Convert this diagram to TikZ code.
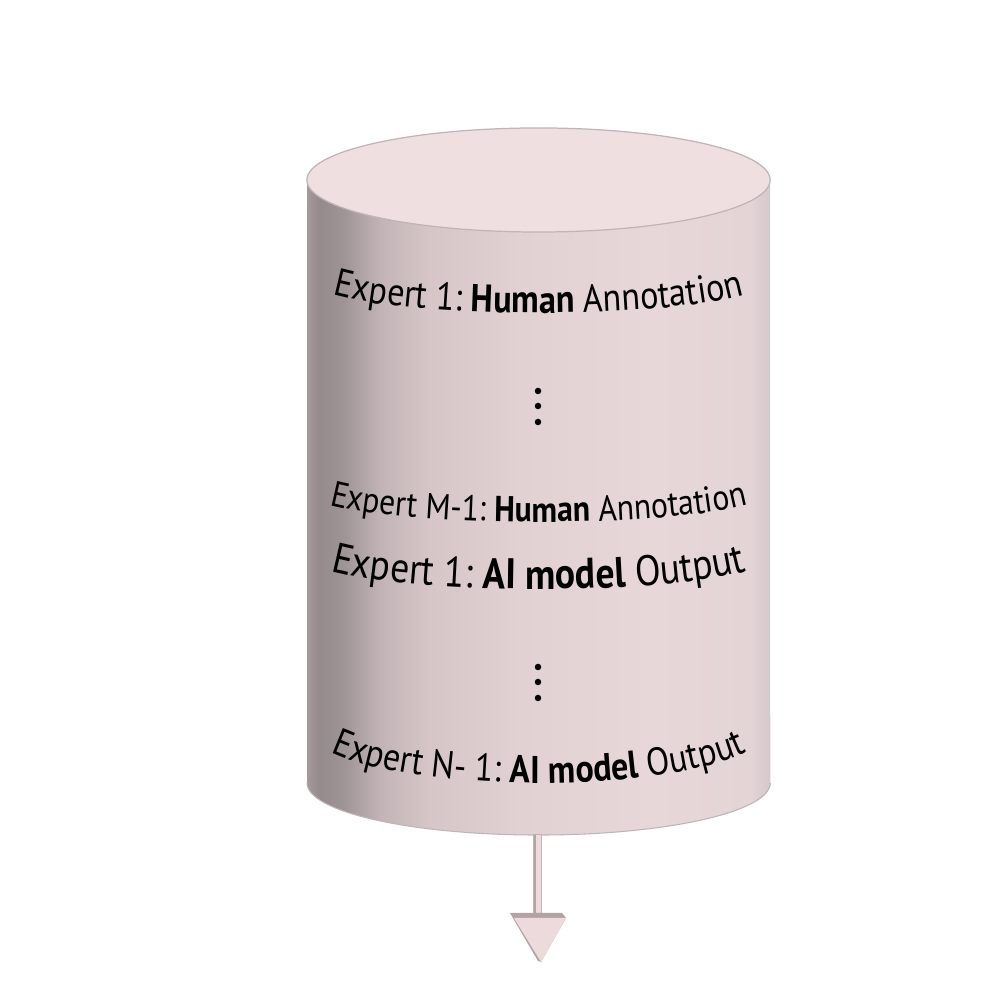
\documentclass[tikz,border=0pt]{standalone}
\usepackage{fontspec}
\setmainfont{PT Sans}[FakeStretch=0.88]
\usetikzlibrary{decorations.text}
\definecolor{topc}{RGB}{239,223,224}
\definecolor{edgec}{RGB}{192,180,182}
\definecolor{sA}{RGB}{165,153,154}
\definecolor{sB}{RGB}{149,139,140}
\definecolor{sC}{RGB}{160,149,150}
\definecolor{sD}{RGB}{194,180,182}
\definecolor{sE}{RGB}{214,198,200}
\definecolor{sF}{RGB}{225,209,211}
\definecolor{sG}{RGB}{231,215,217}
\definecolor{sH}{RGB}{227,212,214}
\definecolor{sI}{RGB}{214,200,202}
\definecolor{arrowc}{RGB}{236,218,220}
\definecolor{arrowd}{RGB}{178,163,165}
\pgfdeclarehorizontalshading{cylside}{100bp}{color(0bp)=(sA); color(25bp)=(sA); color(26.4bp)=(sB); color(29.1bp)=(sC); color(32.9bp)=(sD); color(38.3bp)=(sE); color(48bp)=(sF); color(62bp)=(sG); color(72.8bp)=(sH); color(75bp)=(sI); color(100bp)=(sI)}
\newcommand\rA{\fontsize{11.05}{13}\selectfont}
\newcommand\bA{\fontsize{11.05}{13}\selectfont\bfseries}
\newcommand\rB{\fontsize{10.25}{12}\selectfont}
\newcommand\bB{\fontsize{10.25}{12}\selectfont\bfseries}
\newcommand\rC{\fontsize{12.15}{14}\selectfont}
\newcommand\bC{\fontsize{12.15}{14}\selectfont\bfseries}
\newcommand\rD{\fontsize{11}{13}\selectfont}
\newcommand\bD{\fontsize{11}{13}\selectfont\bfseries}
\begin{document}
\begin{tikzpicture}[x=0.01cm,y=0.01cm,
  dot/.style={circle,fill=black,inner sep=0pt,minimum size=0.065cm},
  rowtext/.style={decorate,decoration={text along path,text align=center,text={#1}}}]
\useasboundingbox (0,0) rectangle (1000,1000);
\fill[white] (0,0) rectangle (1000,1000);
% cylinder side
\path[shading=cylside] (307,820) -- (307,217)
  arc[start angle=180,end angle=360,x radius=2.315cm,y radius=0.52cm] -- (770,820) -- cycle;
\draw[edgec,line width=0.3pt] (307,217)
  arc[start angle=180,end angle=360,x radius=2.315cm,y radius=0.52cm];
% top
\path[fill=topc,draw=edgec,line width=0.35pt] (538.5,820) ellipse[x radius=2.315cm,y radius=0.52cm];
% rows
\path[rowtext={|\rA|Expert 1: |\bA|Human|\rA| Annotation}] (307,721)
  arc[start angle=180,end angle=360,x radius=2.315cm,y radius=0.34cm];
\node[dot] (d1) at (538,609) {};
\node[dot] (d2) at (538,594) {};
\node[dot] (d3) at (538,578) {};
\path[rowtext={|\rB|Expert M-1: |\bB|Human|\rB| Annotation}] (307,508)
  arc[start angle=180,end angle=360,x radius=2.315cm,y radius=0.30cm];
\path[rowtext={|\rC|Expert 1: |\bC|AI model|\rC| Output}] (307,443)
  arc[start angle=180,end angle=360,x radius=2.315cm,y radius=0.32cm];
\node[dot] (d4) at (538,333) {};
\node[dot] (d5) at (538,318) {};
\node[dot] (d6) at (538,302) {};
\path[rowtext={|\rD|Expert N- 1: |\bD|AI model|\rD| Output}] (307,272)
  arc[start angle=180,end angle=360,x radius=2.315cm,y radius=0.55cm];
% arrow
\coordinate (sTop) at (537,165);
\coordinate (sBot) at (537,85);
\fill[arrowc] (533,166) rectangle (541,85);
\fill[arrowd] (533,166) rectangle (535.5,85);
\draw[edgec,line width=0.2pt] (533,166) rectangle (541,85);
\fill[arrowd] (510,87) -- (562,87) -- (566,82) -- (541,38) -- (538,39) -- cycle;
\fill[arrowc] (514,82) -- (566,82) -- (541,38) -- cycle;
\end{tikzpicture}
\end{document}
